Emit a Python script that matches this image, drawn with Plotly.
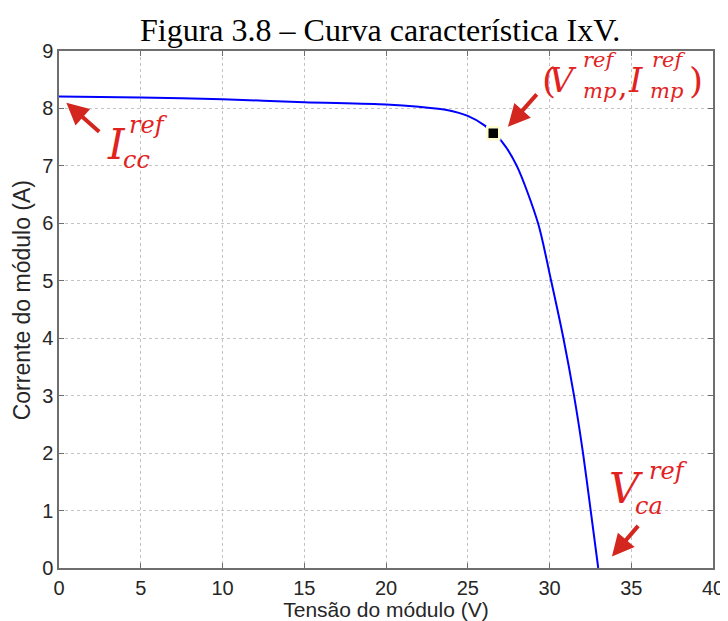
import plotly.graph_objects as go

# Data
tensao = [0, 5, 10, 15, 20, 22, 23.8, 25, 26, 26.56, 27.1, 28.0, 29.3, 30.1,
          30.85, 31.5, 32.05, 32.52, 32.98]
corrente = [8.21, 8.19, 8.16, 8.11, 8.07, 8.03, 7.97, 7.87, 7.71, 7.57, 7.42, 7.0, 6.0, 5.0,
            4.0, 3.0, 2.0, 1.0, 0.0]
v_mp = [26.56]
i_mp = [7.57]

x_ticks = [0, 5, 10, 15, 20, 25, 30, 35, 40]
y_ticks = [0, 1, 2, 3, 4, 5, 6, 7, 8, 9]

RED = "#E0231F"
ARROW = "#D3261E"
MATH = "DejaVu Serif"

fig = go.Figure()
fig.add_trace(go.Scatter(x=tensao, y=corrente, mode="lines",
                         line=dict(color="#0000FF", width=2, shape="spline", smoothing=0.8),
                         hoverinfo="skip", showlegend=False))
fig.add_trace(go.Scatter(x=v_mp, y=i_mp, mode="markers",
                         marker=dict(symbol="square", size=12, color="black",
                                     line=dict(color="#FFFBD0", width=2.5)),
                         showlegend=False))

ann = []
def txt(x, y, t, size, italic=True):
    ann.append(dict(x=x, y=y, xref="x", yref="y", text=t, showarrow=False,
                    font=dict(family=MATH, size=size, color=RED,
                              style="italic" if italic else "normal"),
                    xanchor="center", yanchor="middle", borderpad=0))

def arrow(xh, yh, xt, yt):
    ann.append(dict(x=xh, y=yh, ax=xt, ay=yt, xref="x", yref="y", axref="x", ayref="y",
                    text="", showarrow=True, arrowhead=2, arrowsize=1.1, arrowwidth=4,
                    arrowcolor=ARROW))

# I_cc^ref
txt(3.49, 7.38, "I", 42)
txt(5.5, 7.72, "ref", 24)
txt(4.75, 7.10, "cc", 24)
arrow(0.45, 8.1, 2.55, 7.57)

# (V_mp^ref, I_mp^ref)
txt(29.95, 8.48, "(", 36, italic=False)
txt(30.85, 8.5, "V", 34)
txt(33.05, 8.85, "ref", 21)
txt(33.05, 8.31, "mp", 21)
txt(34.5, 8.40, ",", 30, italic=False)
txt(35.25, 8.5, "I", 34)
txt(37.3, 8.85, "ref", 21)
txt(37.15, 8.31, "mp", 21)
txt(38.95, 8.48, ")", 36, italic=False)
arrow(27.46, 7.68, 29.3, 8.27)

# V_ca^ref
txt(34.7, 1.39, "V", 42)
txt(37.25, 1.69, "ref", 24)
txt(36.1, 1.08, "ca", 24)
arrow(33.82, 0.2, 35.5, 0.76)

# Title
ann.append(dict(x=0.491, y=1.0, xref="paper", yref="paper", xanchor="center", yanchor="bottom",
                yshift=2, borderpad=0, text="Figura 3.8 – Curva característica IxV.",
                showarrow=False,
                font=dict(family="Liberation Serif", size=32, color="black")))

# Y axis title (placed as rotated text)
ann.append(dict(x=0, y=4.66, xref="paper", yref="y", xshift=-37, textangle=-90,
                text="Corrente do módulo (A)", showarrow=False, borderpad=0,
                xanchor="center", yanchor="middle",
                font=dict(family="Liberation Sans", size=23, color="#262626")))

# the page body has an 8px margin: size and margins compensate for it
fig.update_layout(
    width=720, height=613,
    margin=dict(l=51, r=15, t=43, b=53),
    paper_bgcolor="white", plot_bgcolor="white",
    annotations=ann,
    font=dict(family="Liberation Sans", color="#262626"),
)
axis_common = dict(showline=True, linecolor="#6e6e6e", linewidth=1.5, mirror="ticks",
                   ticks="inside", ticklen=5, tickcolor="#6e6e6e", automargin=False,
                   ticklabeloverflow="allow",
                   showgrid=True, gridcolor="#c4c4c4", griddash="dot", gridwidth=1,
                   zeroline=False, tickfont=dict(size=20, color="#262626"))
fig.update_xaxes(range=[0, 40], tickvals=x_ticks, ticktext=[str(v) for v in x_ticks],
                 ticklabelstandoff=1,
                 title=dict(text="Tensão do módulo (V)", font=dict(size=21), standoff=3),
                 **axis_common)
fig.update_yaxes(range=[0, 9], tickvals=y_ticks, ticktext=[str(v) for v in y_ticks],
                 **axis_common)

fig.write_html("out.html")
